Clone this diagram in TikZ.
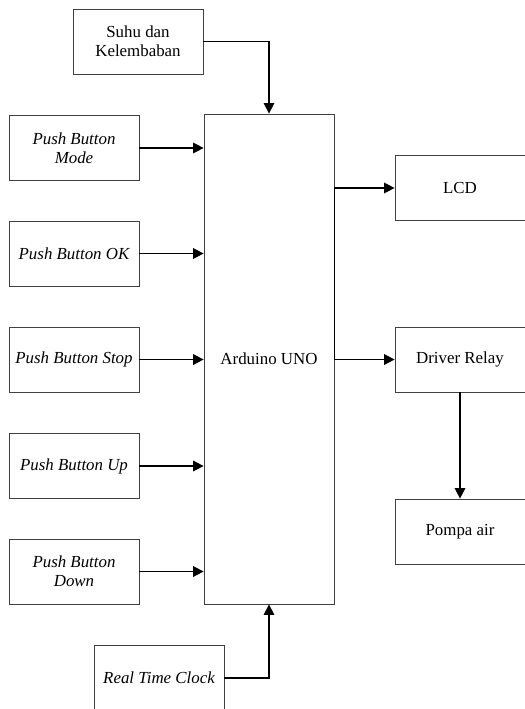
\documentclass[tikz,border=0pt]{standalone}
\usepackage{fontspec}
\setmainfont{Liberation Serif}
\usetikzlibrary{arrows.meta, positioning, calc}

\begin{document}
\begin{tikzpicture}[x=0.025cm, y=-0.025cm,
        blok/.style={rectangle, draw=black!75, line width=0.5pt, fill=white, minimum width=3.25cm, minimum height=1.625cm, align=center, font=\fontsize{12}{13.5}\selectfont},
        pb/.style={blok, font=\fontsize{12}{13.5}\selectfont\itshape},
        conn/.style={-{Triangle[length=7.5pt, width=7.5pt]}, line width=1.1pt}]

        \useasboundingbox (0,0) rectangle (525,709);

        % Masukan
        \node[blok] (suhu) at (138,41.5) {Suhu dan\\Kelembaban};
        \node[pb] (mode) at (74,148) {Push Button\\Mode};
        \node[pb] (ok) at (74,253.5) {Push Button OK};
        \node[pb] (stop) at (74,359.5) {Push Button Stop};
        \node[pb] (up) at (74,466) {Push Button Up};
        \node[pb] (down) at (74,571.5) {Push Button\\Down};
        \node[pb] (rtc) at (159,678) {Real Time Clock};

        % Mikrokontroler
        \node[blok, minimum height=12.25cm] (ard) at (269,359) {Arduino UNO};

        % Keluaran
        \node[blok] (lcd) at (460,188) {LCD};
        \node[blok] (relay) at (460,359.5) {Driver Relay};
        \node[blok] (pompa) at (460,531.5) {Pompa air};

        % Koneksi
        \draw[conn] (suhu.east) -| (ard.north);
        \draw[conn] (rtc.east) -| (ard.south);
        \foreach \n in {mode, ok, stop, up, down}
            \draw[conn] (\n.east) -- (ard.west |- \n.east);
        \draw[conn] (ard.east |- relay.west) -- (relay.west);
        \draw[conn] (ard.east |- relay.west) |- (lcd.west);
        \draw[conn] (relay.south) -- (pompa.north);
    \end{tikzpicture}
\end{document}
